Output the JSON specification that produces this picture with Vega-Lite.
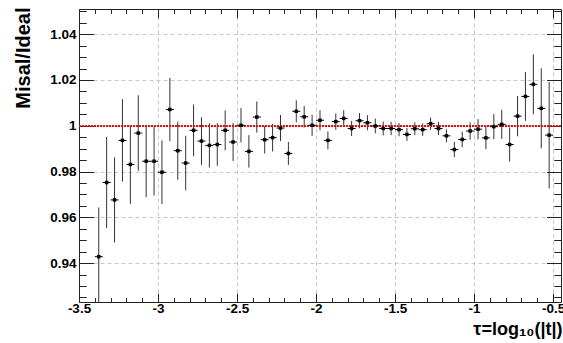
{
  "$schema": "https://vega.github.io/schema/vega-lite/v6.json",
  "width": 482,
  "height": 293,
  "autosize": {"type": "none"},
  "padding": {"left": 79, "top": 9, "right": 2, "bottom": 41},
  "background": "white",
  "config": {
    "view": {"stroke": null},
    "axis": {
      "labelFont": "Liberation Sans",
      "titleFont": "Liberation Sans",
      "labelFontWeight": "bold",
      "titleFontWeight": "bold",
      "labelColor": "#000",
      "titleColor": "#000",
      "domainColor": "#222",
      "tickColor": "#222",
      "labelOverlap": false,
      "labelFlush": false,
      "labelBound": false
    }
  },
  "data": {
    "values": [
      {"x": -3.375, "y": 0.9428, "lo": 0.9213, "hi": 0.9643},
      {"x": -3.325, "y": 0.9752, "lo": 0.9553, "hi": 0.9951},
      {"x": -3.275, "y": 0.9676, "lo": 0.9490, "hi": 0.9862},
      {"x": -3.225, "y": 0.9936, "lo": 0.9756, "hi": 1.0116},
      {"x": -3.175, "y": 0.9831, "lo": 0.9659, "hi": 1.0003},
      {"x": -3.125, "y": 0.9968, "lo": 0.9803, "hi": 1.0133},
      {"x": -3.075, "y": 0.9845, "lo": 0.9688, "hi": 1.0002},
      {"x": -3.025, "y": 0.9845, "lo": 0.9695, "hi": 0.9995},
      {"x": -2.975, "y": 0.9797, "lo": 0.9658, "hi": 0.9936},
      {"x": -2.925, "y": 1.0071, "lo": 0.9933, "hi": 1.0209},
      {"x": -2.875, "y": 0.9891, "lo": 0.9764, "hi": 1.0018},
      {"x": -2.825, "y": 0.9837, "lo": 0.9718, "hi": 0.9956},
      {"x": -2.775, "y": 0.9980, "lo": 0.9867, "hi": 1.0093},
      {"x": -2.725, "y": 0.9933, "lo": 0.9829, "hi": 1.0037},
      {"x": -2.675, "y": 0.9914, "lo": 0.9817, "hi": 1.0011},
      {"x": -2.625, "y": 0.9918, "lo": 0.9825, "hi": 1.0011},
      {"x": -2.575, "y": 0.9980, "lo": 0.9893, "hi": 1.0067},
      {"x": -2.525, "y": 0.9929, "lo": 0.9846, "hi": 1.0012},
      {"x": -2.475, "y": 1.0002, "lo": 0.9927, "hi": 1.0077},
      {"x": -2.425, "y": 0.9888, "lo": 0.9817, "hi": 0.9959},
      {"x": -2.375, "y": 1.0038, "lo": 0.9970, "hi": 1.0106},
      {"x": -2.325, "y": 0.9939, "lo": 0.9879, "hi": 0.9999},
      {"x": -2.275, "y": 0.9948, "lo": 0.9888, "hi": 1.0008},
      {"x": -2.225, "y": 0.9990, "lo": 0.9933, "hi": 1.0047},
      {"x": -2.175, "y": 0.9879, "lo": 0.9829, "hi": 0.9929},
      {"x": -2.125, "y": 1.0063, "lo": 1.0015, "hi": 1.0111},
      {"x": -2.075, "y": 1.0039, "lo": 0.9992, "hi": 1.0086},
      {"x": -2.025, "y": 1.0002, "lo": 0.9956, "hi": 1.0048},
      {"x": -1.975, "y": 1.0024, "lo": 0.9980, "hi": 1.0068},
      {"x": -1.925, "y": 0.9936, "lo": 0.9897, "hi": 0.9975},
      {"x": -1.875, "y": 1.0018, "lo": 0.9982, "hi": 1.0054},
      {"x": -1.825, "y": 1.0032, "lo": 0.9996, "hi": 1.0068},
      {"x": -1.775, "y": 0.9988, "lo": 0.9955, "hi": 1.0021},
      {"x": -1.725, "y": 1.0022, "lo": 0.9989, "hi": 1.0055},
      {"x": -1.675, "y": 1.0013, "lo": 0.9980, "hi": 1.0046},
      {"x": -1.625, "y": 0.9999, "lo": 0.9967, "hi": 1.0031},
      {"x": -1.575, "y": 0.9988, "lo": 0.9958, "hi": 1.0018},
      {"x": -1.525, "y": 0.9988, "lo": 0.9959, "hi": 1.0017},
      {"x": -1.475, "y": 0.9983, "lo": 0.9954, "hi": 1.0012},
      {"x": -1.425, "y": 0.9962, "lo": 0.9934, "hi": 0.9990},
      {"x": -1.375, "y": 0.9987, "lo": 0.9959, "hi": 1.0015},
      {"x": -1.325, "y": 0.9983, "lo": 0.9956, "hi": 1.0010},
      {"x": -1.275, "y": 1.0009, "lo": 0.9982, "hi": 1.0036},
      {"x": -1.225, "y": 0.9988, "lo": 0.9959, "hi": 1.0017},
      {"x": -1.175, "y": 0.9956, "lo": 0.9928, "hi": 0.9984},
      {"x": -1.125, "y": 0.9896, "lo": 0.9863, "hi": 0.9929},
      {"x": -1.075, "y": 0.9940, "lo": 0.9906, "hi": 0.9974},
      {"x": -1.025, "y": 0.9977, "lo": 0.9939, "hi": 1.0015},
      {"x": -0.975, "y": 0.9985, "lo": 0.9941, "hi": 1.0029},
      {"x": -0.925, "y": 0.9947, "lo": 0.9898, "hi": 0.9996},
      {"x": -0.875, "y": 0.9996, "lo": 0.9941, "hi": 1.0051},
      {"x": -0.825, "y": 1.0006, "lo": 0.9942, "hi": 1.0070},
      {"x": -0.775, "y": 0.9918, "lo": 0.9844, "hi": 0.9992},
      {"x": -0.725, "y": 1.0042, "lo": 0.9954, "hi": 1.0130},
      {"x": -0.675, "y": 1.0128, "lo": 1.0021, "hi": 1.0235},
      {"x": -0.625, "y": 1.0181, "lo": 1.0050, "hi": 1.0312},
      {"x": -0.575, "y": 1.0076, "lo": 0.9901, "hi": 1.0251},
      {"x": -0.525, "y": 0.9959, "lo": 0.9726, "hi": 1.0192}
    ]
  },
  "layer": [
    {
      "mark": {"type": "rule", "color": "#333", "strokeWidth": 1, "clip": true},
      "encoding": {
        "x": {
          "field": "x", "type": "quantitative",
          "scale": {"domain": [-3.5, -0.45], "nice": false, "zero": false},
          "axis": {
            "orient": "bottom",
            "values": [-3.5, -3.4, -3.3, -3.2, -3.1, -3, -2.9, -2.8, -2.7, -2.6, -2.5, -2.4, -2.3, -2.2, -2.1, -2, -1.9, -1.8, -1.7, -1.6, -1.5, -1.4, -1.3, -1.2, -1.1, -1, -0.9, -0.8, -0.7, -0.6, -0.5],
            "labelExpr": "abs(round(datum.value*10)) % 5 == 0 ? '' + datum.value : ''",
            "tickSize": {"condition": {"test": "abs(round(datum.value*10)) % 5 == 0", "value": -8.8}, "value": -4.4},
            "labelPadding": 8.4,
            "labelFontSize": 13.5,
            "grid": true,
            "gridColor": "#c8c8c8",
            "gridDash": [4, 3],
            "gridOpacity": {"condition": {"test": "abs(round(datum.value*10)) % 5 == 0", "value": 1}, "value": 0},
            "title": "τ=log₁₀(|t|)",
            "titleFontSize": 18,
            "titleAlign": "right",
            "titleBaseline": "alphabetic",
            "titleX": 483,
            "titleY": 32
          }
        },
        "y": {
          "field": "lo", "type": "quantitative",
          "scale": {"domain": [0.923, 1.051], "nice": false, "zero": false},
          "axis": {
            "orient": "left",
            "values": [0.925, 0.93, 0.935, 0.94, 0.945, 0.95, 0.955, 0.96, 0.965, 0.97, 0.975, 0.98, 0.985, 0.99, 0.995, 1, 1.005, 1.01, 1.015, 1.02, 1.025, 1.03, 1.035, 1.04, 1.045, 1.05],
            "labelExpr": "round(datum.value*1000) % 20 == 0 ? '' + datum.value : ''",
            "tickSize": {"condition": {"test": "round(datum.value*1000) % 20 == 0", "value": -14.5}, "value": -7.2},
            "labelPadding": 17.5,
            "labelFontSize": 13.5,
            "grid": true,
            "gridColor": "#c8c8c8",
            "gridDash": [4, 3],
            "gridOpacity": {"condition": {"test": "round(datum.value*1000) % 20 == 0", "value": 1}, "value": 0},
            "title": "Misal/Ideal",
            "titleFontSize": 20,
            "titleAngle": 270,
            "titleAlign": "right",
            "titleBaseline": "alphabetic",
            "titleX": -49.3,
            "titleY": -2
          }
        },
        "y2": {"field": "hi"}
      }
    },
    {
      "mark": {"type": "rule", "color": "#e01010", "strokeWidth": 1, "strokeDash": [1.5, 1.5]},
      "encoding": {
        "y": {"datum": 1, "type": "quantitative", "axis": null}
      }
    },
    {
      "mark": {"type": "tick", "orient": "horizontal", "size": 8, "thickness": 1, "color": "#000", "opacity": 1},
      "encoding": {
        "x": {"field": "x", "type": "quantitative", "axis": null},
        "y": {"field": "y", "type": "quantitative", "axis": null}
      }
    },
    {
      "mark": {"type": "square", "size": 12, "color": "#000", "filled": true, "opacity": 1},
      "encoding": {
        "x": {
          "field": "x", "type": "quantitative",
          "axis": {
            "orient": "top",
            "values": [-3.5, -3.4, -3.3, -3.2, -3.1, -3, -2.9, -2.8, -2.7, -2.6, -2.5, -2.4, -2.3, -2.2, -2.1, -2, -1.9, -1.8, -1.7, -1.6, -1.5, -1.4, -1.3, -1.2, -1.1, -1, -0.9, -0.8, -0.7, -0.6, -0.5],
            "labels": false,
            "grid": false,
            "title": null,
            "tickSize": {"condition": {"test": "abs(round(datum.value*10)) % 5 == 0", "value": -8.8}, "value": -4.4}
          }
        },
        "y": {
          "field": "y", "type": "quantitative",
          "axis": {
            "orient": "right",
            "values": [0.925, 0.93, 0.935, 0.94, 0.945, 0.95, 0.955, 0.96, 0.965, 0.97, 0.975, 0.98, 0.985, 0.99, 0.995, 1, 1.005, 1.01, 1.015, 1.02, 1.025, 1.03, 1.035, 1.04, 1.045, 1.05],
            "labels": false,
            "grid": false,
            "title": null,
            "tickSize": {"condition": {"test": "round(datum.value*1000) % 20 == 0", "value": -14.5}, "value": -7.2}
          }
        }
      }
    }
  ],
  "resolve": {"axis": {"x": "independent", "y": "independent"}}
}
